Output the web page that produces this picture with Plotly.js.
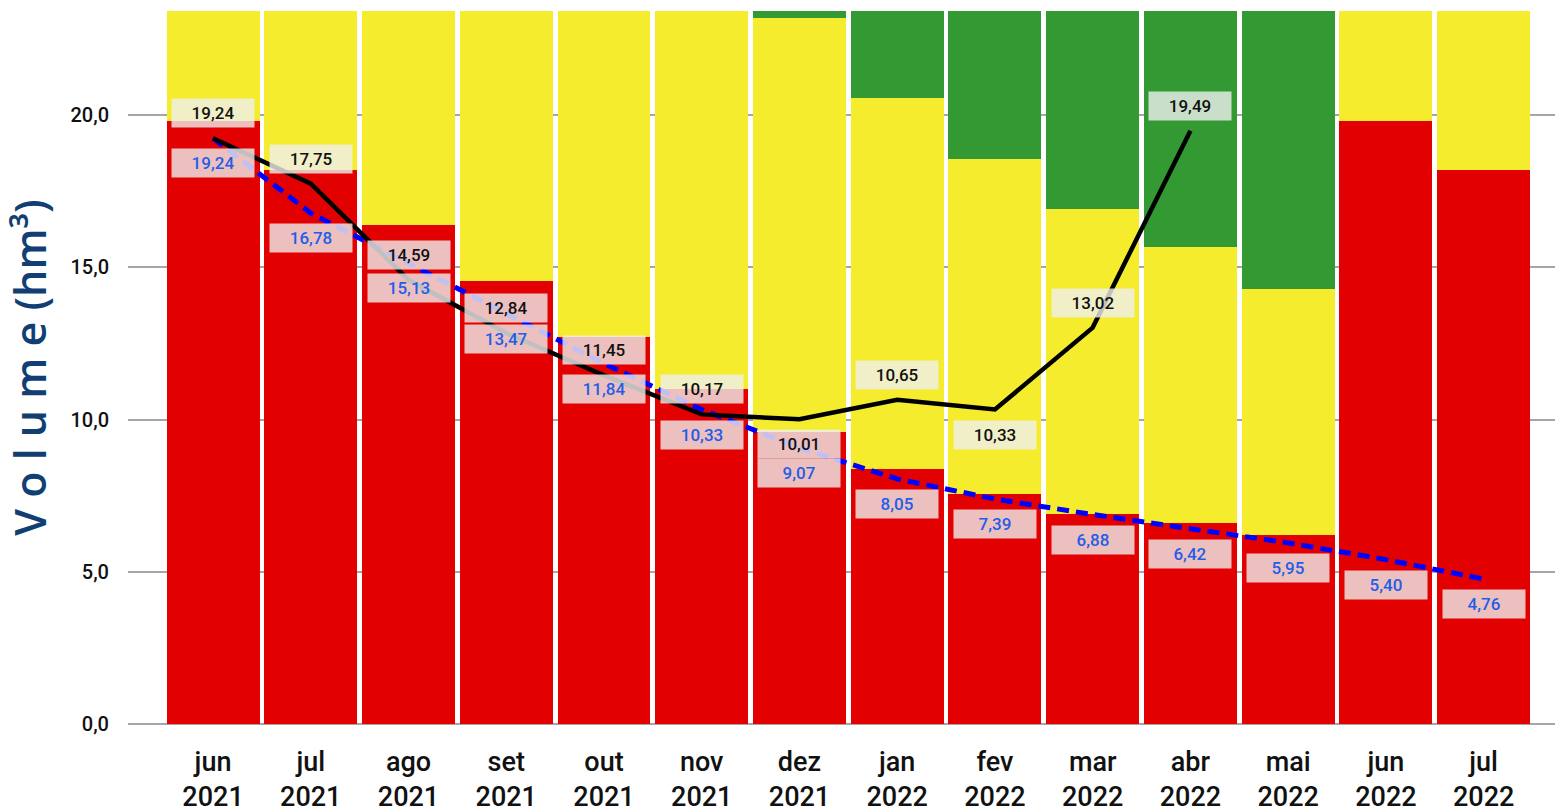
<!DOCTYPE html>
<html>
<head>
<meta charset="utf-8">
<script src="https://cdn.plot.ly/plotly-3.0.1.min.js"></script>
<style>
html,body{margin:0;padding:0;background:#fff;}
#chart{width:1555px;height:810px;}
</style>
</head>
<body>
<div id="chart"></div>
<script>
// Categories (month / year)
const months = ["jun<br>2021","jul<br>2021","ago<br>2021","set<br>2021","out<br>2021","nov<br>2021","dez<br>2021",
                "jan<br>2022","fev<br>2022","mar<br>2022","abr<br>2022","mai<br>2022","jun<br>2022","jul<br>2022"];
// Upper limit of the red band (hm³)
const redLimit    = [19.80,18.19,16.39,14.55,12.71,11.00,9.59,8.37,7.55,6.90,6.60,6.21,19.80,18.19];
// Upper limit of the yellow band (hm³)
const yellowLimit = [23.42,23.42,23.42,23.42,23.42,23.42,23.19,20.56,18.55,16.91,15.67,14.29,23.42,23.42];
// Upper limit of the green band (capacity shown)
const greenLimit  = [23.42,23.42,23.42,23.42,23.42,23.42,23.42,23.42,23.42,23.42,23.42,23.42,23.42,23.42];
// Observed volume (black line)
const observed  = [19.24,17.75,14.59,12.84,11.45,10.17,10.01,10.65,10.33,13.02,19.49];
// Projected volume (blue dashed line)
const projected = [19.24,16.78,15.13,13.47,11.84,10.33,9.07,8.05,7.39,6.88,6.42,5.95,5.40,4.76];
// Label placement for observed values (above / below the line)
const observedLabelSide = ["above","above","above","above","above","above","below","above","below","above","above"];

const fmt = v => v.toFixed(2).replace('.', ',');

const redBand = redLimit;
const yellowBand = yellowLimit.map((v,i)=>v - redLimit[i]);
const greenBand = greenLimit.map((v,i)=>v - yellowLimit[i]);

const traces = [
  {type:'bar', x:months, y:redBand, marker:{color:'#e20000'}, hoverinfo:'skip', showlegend:false},
  {type:'bar', x:months, y:yellowBand, marker:{color:'#f4ec2c'}, hoverinfo:'skip', showlegend:false},
  {type:'bar', x:months, y:greenBand, marker:{color:'#339933'}, hoverinfo:'skip', showlegend:false},
  {type:'scatter', mode:'lines', x:months.slice(0, projected.length), y:projected,
   line:{color:'#0000ff', width:5, dash:'12px,7px'}, hoverinfo:'skip', showlegend:false},
  {type:'scatter', mode:'lines', x:months.slice(0, observed.length), y:observed,
   line:{color:'#000000', width:4.5}, hoverinfo:'skip', showlegend:false}
];

const labelFont = {family:'Roboto, "DejaVu Sans", sans-serif', size:17, weight:500};
const annotations = [];
observed.forEach((v,i)=>{
  annotations.push({x:months[i], y:v, xref:'x', yref:'y', text:fmt(v), showarrow:false,
    yshift: observedLabelSide[i]==='above' ? 25 : -25,
    font:Object.assign({color:'#111111'}, labelFont),
    bgcolor:'rgba(240,240,240,0.8)', borderpad:4, width:74, height:20});
});
projected.forEach((v,i)=>{
  annotations.push({x:months[i], y:v, xref:'x', yref:'y', text:fmt(v), showarrow:false,
    yshift:-25,
    font:Object.assign({color:'#1f5ee8'}, labelFont),
    bgcolor:'rgba(240,240,240,0.8)', borderpad:4, width:74, height:20});
});

const layout = {
  width:1555, height:810,
  margin:{l:128, r:0, t:11, b:86, pad:0},
  barmode:'stack', bargap:0.049,
  separators:',.',
  paper_bgcolor:'#ffffff', plot_bgcolor:'#ffffff',
  showlegend:false,
  font:{family:'Roboto, "DejaVu Sans", sans-serif', color:'#111111'},
  xaxis:{type:'category', range:[-0.87,13.73], showgrid:false, zeroline:false,
         showline:false, ticks:'', ticklabelstandoff:19,
         tickfont:{size:27, color:'#111111', weight:500}, fixedrange:true},
  yaxis:{range:[0,23.42], tickvals:[0,5,10,15,20], tickformat:'.1f', showgrid:true,
         gridcolor:'#a6a6a6', gridwidth:2, zeroline:true, zerolinecolor:'#a6a6a6', zerolinewidth:2,
         showline:false, ticks:'', ticklabelstandoff:18, tickfont:{size:20, color:'#111111', weight:500},
         title:{text:'V o l u m e (hm³)', font:{size:43, color:'#123f73', family:'"Open Sans", "DejaVu Sans", sans-serif', weight:600}, standoff:14},
         fixedrange:true},
  annotations:annotations
};

Plotly.newPlot('chart', traces, layout, {displayModeBar:false, staticPlot:true});
</script>
</body>
</html>
